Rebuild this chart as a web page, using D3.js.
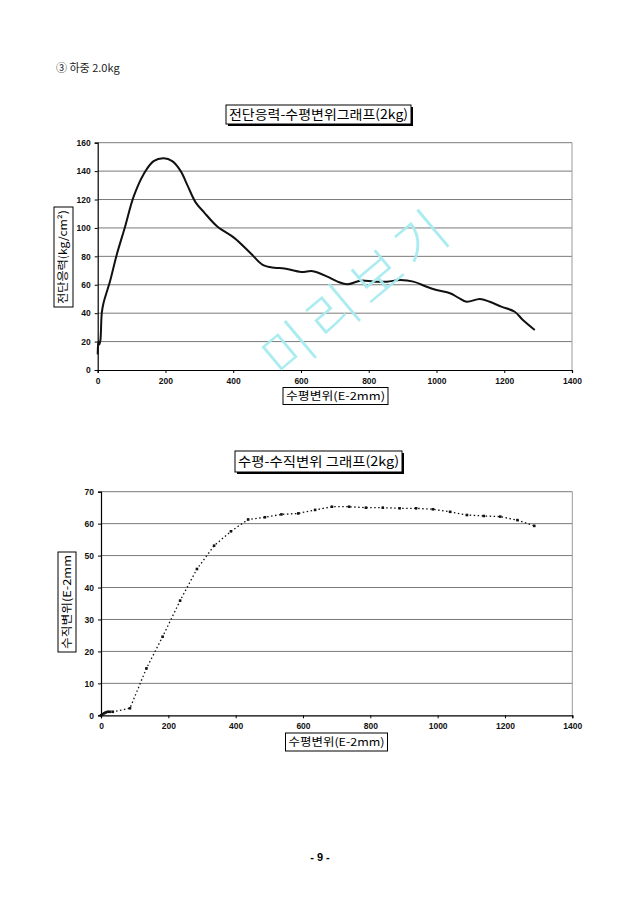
<!DOCTYPE html>
<html>
<head>
<meta charset="utf-8">
<script src="https://cdn.jsdelivr.net/npm/d3@7"></script>
<style>
  body { margin: 0; background: #fff; }
  svg text { font-family: "Liberation Sans", Arial, sans-serif; }
  .kr { font-family: "Noto Sans CJK KR", sans-serif; }
</style>
</head>
<body>
<div id="page"></div>
<script>
// chart 1: shear stress vs horizontal displacement (continuous curve)
const shearX = [0, 2, 5, 8, 12, 17, 37, 56, 81, 106, 136, 165, 195, 220, 245, 265, 289, 314, 353, 403, 452, 487, 522, 551, 601, 631, 651, 678, 708, 737, 776, 815, 854, 893, 932, 971, 1000, 1040, 1064, 1089, 1128, 1157, 1191, 1231, 1255, 1290];
const shearY = [11, 20, 18, 21, 40, 47, 63, 81, 101, 122, 138, 147, 149, 147, 140, 130, 118, 111, 101, 93, 82, 74, 72, 71.5, 69, 69.7, 68.5, 65.7, 62.2, 60.3, 62.9, 62.2, 62.2, 63.3, 62.2, 58.6, 56.3, 54, 51, 48, 50, 48, 44.6, 41, 35.2, 28.2];

// chart 2: horizontal vs vertical displacement (dotted line with markers)
const dispX = [0, 4, 9, 14, 20, 27, 35, 86, 135, 183, 235, 285, 336, 386, 437, 487, 536, 586, 636, 686, 737, 787, 837, 887, 936, 986, 1037, 1087, 1137, 1186, 1237, 1287];
const dispY = [0, 0.3, 0.6, 0.9, 1.1, 1.1, 1.1, 2.2, 14.7, 24.6, 35.9, 45.8, 53.1, 57.6, 61.3, 62, 62.9, 63.2, 64.3, 65.3, 65.3, 65, 65, 64.8, 64.8, 64.5, 63.7, 62.7, 62.4, 62.2, 61.1, 59.3];

const xTicks = [0, 200, 400, 600, 800, 1000, 1200, 1400];
const shearTicks = [0, 20, 40, 60, 80, 100, 120, 140, 160];
const dispTicks = [0, 10, 20, 30, 40, 50, 60, 70];

const W = 640, H = 905;
const svg = d3.select("#page").append("svg")
  .attr("width", W).attr("height", H)
  .attr("viewBox", [0, 0, W, H]);

svg.append("text").attr("class", "kr")
  .attr("x", 56).attr("y", 72)
  .style("font-size", "11px").attr("fill", "#222")
  .text("③ 하중 2.0kg");

// w,h are in the text's own direction (before rotation)
function boxLabel(cx, cy, w, h, txt, rotate, shadow, fs) {
  const g = svg.append("g").attr("transform", `translate(${cx},${cy}) rotate(${rotate})`);
  if (shadow) {
    g.append("rect").attr("x", -w / 2 + 2).attr("y", -h / 2 + 2)
      .attr("width", w).attr("height", h).attr("fill", "#000");
  }
  g.append("rect").attr("x", -w / 2).attr("y", -h / 2)
    .attr("width", w).attr("height", h)
    .attr("fill", "#fff").attr("stroke", "#000").attr("stroke-width", 1);
  g.append("text").attr("class", "kr")
    .attr("text-anchor", "middle").attr("dy", "0.36em")
    .style("font-size", fs + "px")
    .attr("textLength", w - 6).attr("lengthAdjust", "spacingAndGlyphs")
    .text(txt);
  return g;
}

function drawFrame(x, y, yTicks) {
  const [x0, x1] = x.range();
  const [y0, y1] = y.range();
  const g = svg.append("g");
  g.selectAll("line.grid").data(yTicks.slice(1)).join("line")
    .attr("x1", x0).attr("x2", x1)
    .attr("y1", d => y(d)).attr("y2", d => y(d))
    .attr("stroke", "#7a7a7a").attr("stroke-width", 1);
  g.append("line").attr("x1", x1).attr("x2", x1).attr("y1", y1).attr("y2", y0)
    .attr("stroke", "#9a9a9a");

  const xAxis = svg.append("g")
    .attr("transform", `translate(0,${y0})`)
    .call(d3.axisBottom(x).tickValues(xTicks).tickSize(3).tickPadding(5).tickFormat(d3.format("d")));
  const yAxis = svg.append("g")
    .attr("transform", `translate(${x0},0)`)
    .call(d3.axisLeft(y).tickValues(yTicks).tickSize(3).tickPadding(4).tickFormat(d3.format("d")));
  [xAxis, yAxis].forEach(a => {
    a.select(".domain").attr("stroke", "#000").attr("stroke-width", 1.2);
    a.selectAll(".tick line").attr("stroke", "#000");
    a.selectAll("text").style("font-size", "8.5px").style("font-weight", "bold").attr("fill", "#111");
  });
}

// ---- chart 1 ----
const x1 = d3.scaleLinear().domain([0, 1400]).range([97.7, 572]);
const y1 = d3.scaleLinear().domain([0, 160]).range([370, 142.7]);
drawFrame(x1, y1, shearTicks);

const shearData = shearX.map((d, i) => ({ x: d, y: shearY[i] }));
svg.append("path").datum(shearData)
  .attr("fill", "none").attr("stroke", "#111").attr("stroke-width", 2)
  .attr("d", d3.line().curve(d3.curveCatmullRom).x(d => x1(d.x)).y(d => y1(d.y)));

boxLabel(318.5, 114.5, 185, 19, "전단응력-수평변위그래프(2kg)", 0, true, 13);
boxLabel(63.5, 257, 100, 19, "전단응력(kg/cm²)", -90, false, 11);
boxLabel(335.5, 396, 105, 17, "수평변위(E-2mm)", 0, false, 11);

// ---- chart 2 ----
const x2 = d3.scaleLinear().domain([0, 1400]).range([101, 572.3]);
const y2 = d3.scaleLinear().domain([0, 70]).range([715.3, 491.7]);
drawFrame(x2, y2, dispTicks);

const dispData = dispX.map((d, i) => ({ x: d, y: dispY[i] }));
svg.append("path").datum(dispData)
  .attr("fill", "none").attr("stroke", "#111").attr("stroke-width", 1.3)
  .attr("stroke-dasharray", "1.5,2.5")
  .attr("d", d3.line().x(d => x2(d.x)).y(d => y2(d.y)));
svg.selectAll("rect.pt").data(dispData).join("rect")
  .attr("x", d => x2(d.x) - 1.3).attr("y", d => y2(d.y) - 1.3)
  .attr("width", 2.6).attr("height", 2.6).attr("fill", "#111");

boxLabel(318.5, 461.5, 167, 21, "수평-수직변위 그래프(2kg)", 0, true, 13);
boxLabel(67, 602, 100, 18, "수직변위(E-2mm", -90, false, 11);
boxLabel(336.5, 742, 102, 18, "수평변위(E-2mm)", 0, false, 11);

// watermark
svg.append("text").attr("class", "kr")
  .attr("transform", "translate(358,292) rotate(-40)")
  .attr("text-anchor", "middle").attr("dy", "0.36em")
  .style("font-size", "54px").style("font-weight", "300")
  .attr("fill", "#a6ecf0").attr("opacity", 0.95)
  .attr("letter-spacing", "8px")
  .text("미리보기");

svg.append("text").attr("x", 320).attr("y", 861)
  .attr("text-anchor", "middle")
  .style("font-size", "11px").style("font-weight", "bold")
  .text("- 9 -");
</script>
</body>
</html>
